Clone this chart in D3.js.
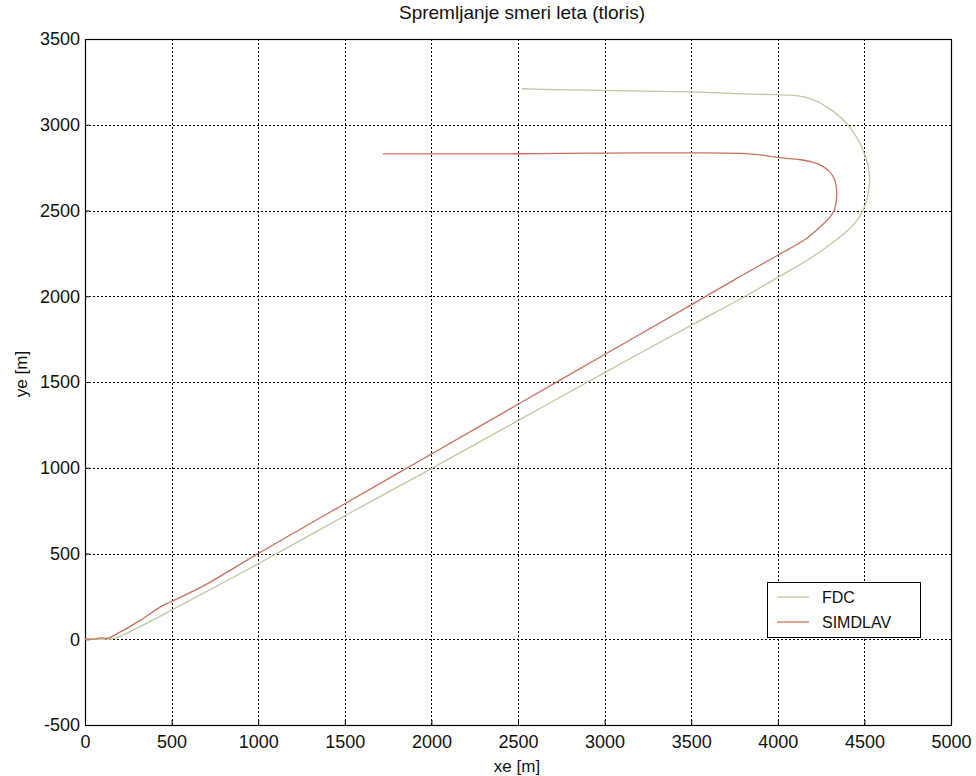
<!DOCTYPE html>
<html>
<head>
<meta charset="utf-8">
<script src="https://cdn.jsdelivr.net/npm/d3@7"></script>
<style>
  body { margin: 0; background: #fff; }
  svg { display: block; font-family: "Liberation Sans", Arial, sans-serif; }
</style>
</head>
<body>
<svg id="chart" width="976" height="776"></svg>
<script>
// Flight path tracking (plan view): FDC vs SIMDLAV trajectories, metres
const xTicks = [0, 500, 1000, 1500, 2000, 2500, 3000, 3500, 4000, 4500, 5000];
const yTicks = [-500, 0, 500, 1000, 1500, 2000, 2500, 3000, 3500];

const fdcX = [0, 100, 170, 300, 500, 1000, 1500, 2000, 2500, 3000, 3500, 3822, 4000, 4170, 4300, 4400, 4455, 4492, 4518, 4530, 4522, 4500, 4470, 4400, 4290, 4200, 4120, 3800, 3450, 3000, 2700, 2523];
const fdcY = [0, 0, 5, 65, 170, 440, 720, 995, 1275, 1555, 1830, 2006, 2110, 2210, 2300, 2380, 2440, 2500, 2580, 2660, 2760, 2830, 2900, 3005, 3100, 3148, 3168, 3180, 3193, 3200, 3205, 3210];

const simX = [0, 60, 90, 130, 200, 318, 433, 500, 700, 1000, 1500, 2000, 2500, 3000, 3500, 3782, 4000, 4170, 4250, 4300, 4325, 4338, 4340, 4330, 4300, 4255, 4200, 4130, 4000, 3880, 3782, 3500, 3000, 2600, 2400, 1720];
const simY = [0, 2, 8, 5, 40, 110, 187, 220, 320, 500, 790, 1080, 1370, 1660, 1950, 2115, 2239, 2340, 2410, 2460, 2500, 2560, 2618, 2675, 2725, 2760, 2782, 2796, 2810, 2826, 2833, 2836, 2835, 2832, 2830, 2830];

const seriesNames = ["FDC", "SIMDLAV"];
const seriesColors = ["#b8cba2", "#c9705e"];

const svg = d3.select("#chart");
const m = { left: 85, right: 951, top: 39, bottom: 725 };

const x = d3.scaleLinear().domain([0, 5000]).range([m.left, m.right]);
const y = d3.scaleLinear().domain([-500, 3500]).range([m.bottom, m.top]);

// grid
const grid = svg.append("g").attr("stroke", "#000").attr("stroke-width", 1)
  .attr("stroke-dasharray", "2,2");
grid.selectAll("line.vx").data(xTicks.slice(1, -1)).join("line")
  .attr("x1", d => Math.round(x(d)) + 0.5).attr("x2", d => Math.round(x(d)) + 0.5)
  .attr("y1", m.top).attr("y2", m.bottom);
grid.selectAll("line.hy").data(yTicks.slice(1, -1)).join("line")
  .attr("y1", d => Math.round(y(d)) + 0.5).attr("y2", d => Math.round(y(d)) + 0.5)
  .attr("x1", m.left).attr("x2", m.right);

// axes (ticks inward, box drawn separately)
const fmt = d => String(d);
const xAxis = d3.axisBottom(x).tickValues(xTicks).tickSize(-5).tickFormat(fmt);
const yAxis = d3.axisLeft(y).tickValues(yTicks).tickSize(-5).tickPadding(5).tickFormat(fmt);

const gx = svg.append("g").attr("transform", `translate(0,${m.bottom})`).call(xAxis);
const gy = svg.append("g").attr("transform", `translate(${m.left},0)`).call(yAxis);
[gx, gy].forEach(g => {
  g.select(".domain").remove();
  g.selectAll(".tick line").attr("stroke", "#000");
  g.selectAll(".tick text").attr("fill", "#111").style("font-size", "18px")
    .style("font-family", "'Liberation Sans', Arial, sans-serif");
});
gx.selectAll(".tick text").attr("y", 23).attr("dy", 0);

// box
svg.append("rect").attr("x", m.left + 0.5).attr("y", m.top + 0.5)
  .attr("width", m.right - m.left).attr("height", m.bottom - m.top)
  .attr("fill", "none").attr("stroke", "#000").attr("stroke-width", 1.2);

// series
const line = d3.line().x(d => x(d[0])).y(d => y(d[1])).curve(d3.curveCatmullRom.alpha(0.5));
const fdc = fdcX.map((v, i) => [v, fdcY[i]]);
const sim = simX.map((v, i) => [v, simY[i]]);
[fdc, sim].forEach((pts, i) => {
  svg.append("path").datum(pts).attr("d", line)
    .attr("fill", "none").attr("stroke", seriesColors[i]).attr("stroke-width", 1.3);
});

// title and labels
svg.append("text").attr("x", 522).attr("y", 19).attr("text-anchor", "middle")
  .style("font-size", "19px").attr("fill", "#111").text("Spremljanje smeri leta (tloris)");
svg.append("text").attr("x", 517).attr("y", 772).attr("text-anchor", "middle")
  .style("font-size", "17px").attr("fill", "#111").text("xe [m]");
svg.append("text").attr("transform", "translate(27,374) rotate(-90)").attr("text-anchor", "middle")
  .style("font-size", "17px").attr("fill", "#111").text("ye [m]");

// legend
const lg = svg.append("g");
lg.append("rect").attr("x", 767.5).attr("y", 582.5).attr("width", 153).attr("height", 55)
  .attr("fill", "#fff").attr("stroke", "#000").attr("stroke-width", 1);
seriesNames.forEach((name, i) => {
  const yy = 597 + i * 25;
  lg.append("line").attr("x1", 777).attr("x2", 809).attr("y1", yy).attr("y2", yy)
    .attr("stroke", seriesColors[i]).attr("stroke-width", 1.3);
  lg.append("text").attr("x", 822).attr("y", yy + 6).style("font-size", "16px")
    .attr("fill", "#111").text(name);
});
</script>
</body>
</html>
